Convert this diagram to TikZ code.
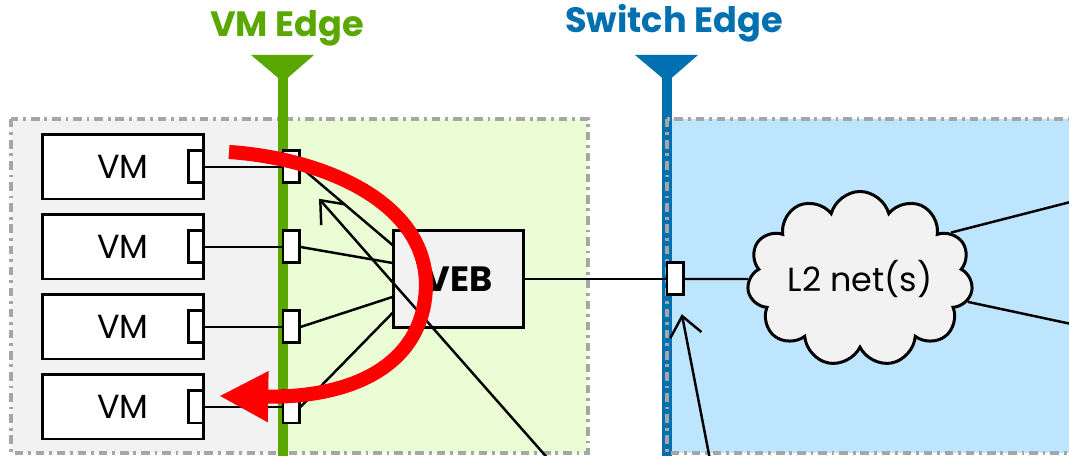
\documentclass[tikz,border=0pt]{standalone}
\usepackage{fontspec}
\setmainfont{Poppins}
\usetikzlibrary{arrows.meta,shapes.symbols,calc}
\definecolor{vmgreen}{HTML}{5AA700}
\definecolor{swblue}{HTML}{0070B0}
\definecolor{lightgreen}{HTML}{EAFDD4}
\definecolor{lightblue}{HTML}{BDE5FD}
\definecolor{boxgray}{HTML}{F2F2F2}
\definecolor{zonegray}{HTML}{A6A6A6}
\tikzset{
  zone/.style={draw=zonegray, line width=0.9pt, dash pattern=on 2.4pt off 1.4pt on 0.8pt off 1.4pt},
  vmbox/.style={draw, line width=0.85pt, fill=white, minimum width=1.6cm, minimum height=0.64cm, inner sep=0pt, font=\fontsize{9.5}{11}\selectfont},
  port/.style={draw, line width=0.85pt, fill=white, minimum width=0.16cm, minimum height=0.32cm, inner sep=0pt},
  link/.style={line width=0.7pt},
  edgeline/.style={line width=3pt},
  edgetitle/.style={font=\fontsize{10}{12}\selectfont\bfseries},
  callout/.style={link, -{Straight Barb[length=5.5pt,width=9pt]}},
}
\begin{document}
\begin{tikzpicture}[x=0.01cm,y=-0.01cm]
    \useasboundingbox (0,0) rectangle (1069,456);
    %zone
    \fill[boxgray] (11,119) rectangle (283,453);
    \fill[lightgreen] (283,119) rectangle (588,453);
    \draw[zone] (11,119) rectangle (588,453);
    \fill[lightblue] (667,119) rectangle (1090,453);
    %edge
    \fill[vmgreen] (251,55) -- (314,55) -- (283,82) -- cycle;
    \draw[vmgreen, edgeline] (283,75) -- (283,470);
    \node[edgetitle, text=vmgreen] (vmedge) at (287,28) {VM Edge};
    \fill[swblue] (635,55) -- (698,55) -- (667,82) -- cycle;
    \draw[swblue, edgeline] (667,75) -- (667,470);
    \node[edgetitle, text=swblue] (swedge) at (674,23) {Switch Edge};
    \draw[zone] (667,119) rectangle (1090,453);
    %vm
    \node[draw, line width=0.85pt, fill=boxgray, minimum width=1.29cm, minimum height=0.96cm, inner sep=0pt, edgetitle] (veb) at (458.5,279) {VEB};
    \foreach \i/\d in {1/-34,2/-16,3/18,4/34}{
        \node[vmbox] (vm\i) at (123,{87+80*\i}) {VM};
        \node[port, minimum width=0.15cm, anchor=east] (vp\i) at (vm\i.east) {};
        \node[port] (ep\i) at (291,{87+80*\i}) {};
        \draw[link] (vp\i) -- (ep\i);
        \draw[link] (ep\i.east) -- ($(veb.west)+(0,\d)$);
    }
    %switch
    \node[port] (sp) at (675,279) {};
    \draw[link] (veb) -- (sp);
    \node[cloud, draw, fill=boxgray, line width=0.85pt, cloud puffs=11, aspect=1.5, minimum width=2.2cm, minimum height=1.6cm, inner sep=0pt, font=\fontsize{9.5}{11}\selectfont] (net) at (860,279) {L2 net(s)};
    \draw[link] (sp) -- (net);
    \coordinate (netA) at (1090,197);
    \coordinate (netB) at (1090,328);
    \draw[link] (net.27) -- (netA);
    \draw[link] (net.-12) -- (netB);
    %frecce
    \coordinate (calA) at (558,470);
    \coordinate (calB) at (712,470);
    \draw[callout, shorten >=0.28cm] (calA) -- (ep1);
    \draw[callout, shorten >=0.18cm] (calB) -- (sp);
    \draw[red, line width=4pt, -{Triangle[length=14pt,width=13.5pt]}] (229,152) .. controls (320,158) and (424,200) .. (426,283) .. controls (426,360) and (360,398) .. (219,396);
\end{tikzpicture}
\end{document}
